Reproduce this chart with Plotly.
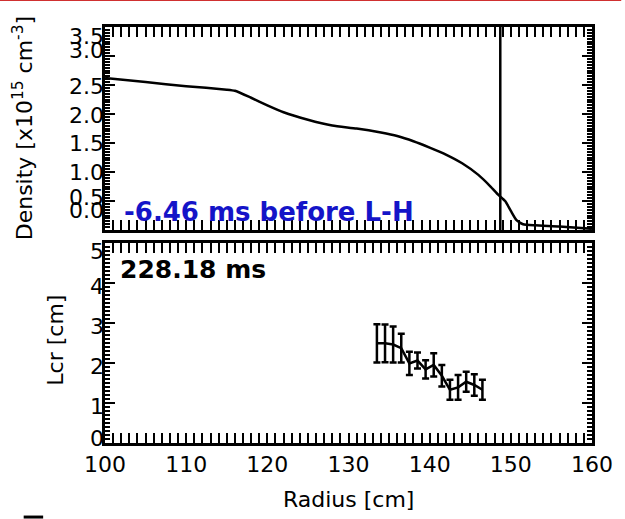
import plotly.graph_objects as go

# ---------------- data ----------------
radius_density = [100, 105, 110, 115, 116, 118, 120, 122, 125, 128, 131, 134, 136, 138,
                  140, 142, 144, 146, 147.5, 148.5, 149.3, 150, 150.7, 151.5, 153, 156, 160]
density = [2.62, 2.55, 2.48, 2.42, 2.40, 2.28, 2.15, 2.03, 1.90, 1.80, 1.75, 1.68, 1.62, 1.53,
           1.42, 1.30, 1.15, 0.95, 0.75, 0.60, 0.50, 0.33, 0.17, 0.10, 0.08, 0.06, 0.02]
separatrix_r = 148.7

radius_lcr = [133.5, 134.5, 135.5, 136.5, 137.5, 138.5, 139.5, 140.5, 141.5, 142.5,
              143.5, 144.5, 145.5, 146.5]
lcr = [2.49, 2.49, 2.46, 2.37, 1.99, 2.06, 1.84, 1.95, 1.68, 1.33, 1.39, 1.53, 1.45, 1.33]
lcr_err = [0.48, 0.47, 0.45, 0.36, 0.29, 0.20, 0.23, 0.29, 0.27, 0.25, 0.31, 0.25, 0.27, 0.25]

x_ticks = [100, 110, 120, 130, 140, 150, 160]
top_y_ticktext = ["3.5", "3.0", "2.5", "2.0", "1.5", "1.0", "0.5", "0.0"]
top_y_labelpos = [3.34, 3.10, 2.47, 1.98, 1.50, 1.00, 0.57, 0.34]
bot_y_ticktext = ["5", "4", "3", "2", "1", "0"]
bot_y_labelpos = [4.80, 3.92, 2.92, 1.92, 0.92, 0.12]

FONT = "DejaVu Sans"
LW = 2.5

fig = go.Figure()

fig.add_trace(go.Scatter(x=radius_density, y=density, mode="lines",
                         line=dict(color="black", width=LW, shape="spline", smoothing=0.5),
                         xaxis="x", yaxis="y", showlegend=False, hoverinfo="skip"))
fig.add_trace(go.Scatter(x=[separatrix_r, separatrix_r], y=[0, 3.5], mode="lines",
                         line=dict(color="black", width=LW),
                         xaxis="x", yaxis="y", showlegend=False, hoverinfo="skip"))
fig.add_trace(go.Scatter(x=radius_lcr, y=lcr, mode="lines",
                         line=dict(color="black", width=LW),
                         error_y=dict(type="data", array=lcr_err, color="black",
                                      thickness=LW, width=3.5),
                         xaxis="x2", yaxis="y2", showlegend=False, hoverinfo="skip"))
# invisible traces anchoring label-only axes
fig.add_trace(go.Scatter(x=[100], y=[0], mode="markers", marker=dict(opacity=0),
                         xaxis="x", yaxis="y3", showlegend=False, hoverinfo="skip"))
fig.add_trace(go.Scatter(x=[100], y=[0], mode="markers", marker=dict(opacity=0),
                         xaxis="x2", yaxis="y4", showlegend=False, hoverinfo="skip"))

top_dom = [0.512, 1.0]
bot_dom = [0.0, 0.481]

axis_common = dict(showline=True, linecolor="black", linewidth=LW, mirror="allticks",
                   ticks="inside", ticklen=10, tickwidth=2, tickcolor="black",
                   showgrid=False, zeroline=False)
xfont = dict(family=FONT, size=22, color="black")

fig.update_layout(
    width=625, height=519,
    margin=dict(l=105, r=25, t=27, b=76),
    paper_bgcolor="white", plot_bgcolor="white",
    xaxis=dict(domain=[0, 1], anchor="y", range=[100, 160], tickvals=x_ticks,
               showticklabels=False,
               minor=dict(dtick=1, ticklen=4, tickwidth=1.5, ticks="inside", tickcolor="black"),
               **axis_common),
    yaxis=dict(domain=top_dom, anchor="x", range=[0, 3.5], dtick=0.5,
               showticklabels=False,
               minor=dict(dtick=0.05, ticklen=5, tickwidth=1.5, ticks="inside", tickcolor="black"),
               **axis_common),
    xaxis2=dict(domain=[0, 1], anchor="y2", range=[100, 160], tickvals=x_ticks,
                ticktext=[str(v) for v in x_ticks], tickfont=xfont,
                minor=dict(dtick=1, ticklen=4, tickwidth=1.5, ticks="inside", tickcolor="black"),
                **axis_common),
    yaxis2=dict(domain=bot_dom, anchor="x2", range=[0, 5], dtick=1,
                showticklabels=False,
                minor=dict(dtick=0.1, ticklen=5, tickwidth=1.5, ticks="inside", tickcolor="black"),
                **axis_common),
    yaxis3=dict(overlaying="y", anchor="x", side="left", range=[0, 3.5],
                tickvals=top_y_labelpos, ticktext=top_y_ticktext, ticks="",
                showline=False, showgrid=False, zeroline=False,
                tickfont=xfont),
    yaxis4=dict(overlaying="y2", anchor="x2", side="left", range=[0, 5],
                tickvals=bot_y_labelpos, ticktext=bot_y_ticktext, ticks="",
                showline=False, showgrid=False, zeroline=False,
                tickfont=xfont),
)

fig.add_annotation(text="-6.46 ms before L-H", xref="x domain", yref="y domain",
                   x=0.034, y=0.089, xanchor="left", yanchor="middle", showarrow=False,
                   font=dict(family=FONT, size=26, color="#1414C8", weight="bold"))
fig.add_annotation(text="228.18 ms", xref="x2 domain", yref="y2 domain",
                   x=0.026, y=0.865, xanchor="left", yanchor="middle", showarrow=False,
                   font=dict(family=FONT, size=25, color="black", weight="bold"))
fig.add_annotation(text="Density [x10<sup>15</sup> cm<sup>-3</sup>]", xref="paper", yref="paper",
                   x=-0.168, y=0.757, xanchor="center", yanchor="middle",
                   textangle=-90, showarrow=False,
                   font=dict(family=FONT, size=22, color="black"))
fig.add_annotation(text="Lcr [cm]", xref="paper", yref="paper",
                   x=-0.101, y=0.248, xanchor="center", yanchor="middle",
                   textangle=-90, showarrow=False,
                   font=dict(family=FONT, size=22, color="black"))
fig.add_annotation(text="Radius [cm]", xref="paper", yref="paper",
                   x=0.499, y=-0.137, xanchor="center", yanchor="middle", showarrow=False,
                   font=dict(family=FONT, size=22, color="black"))

# decorative page elements
fig.add_shape(type="line", xref="paper", yref="paper", x0=-0.25, x1=1.06,
              y0=1.065, y1=1.065, line=dict(color="#D03030", width=2))
fig.add_shape(type="line", xref="paper", yref="paper", x0=-0.167, x1=-0.127,
              y0=-0.178, y1=-0.178, line=dict(color="black", width=3))

fig.write_html("out.html")
